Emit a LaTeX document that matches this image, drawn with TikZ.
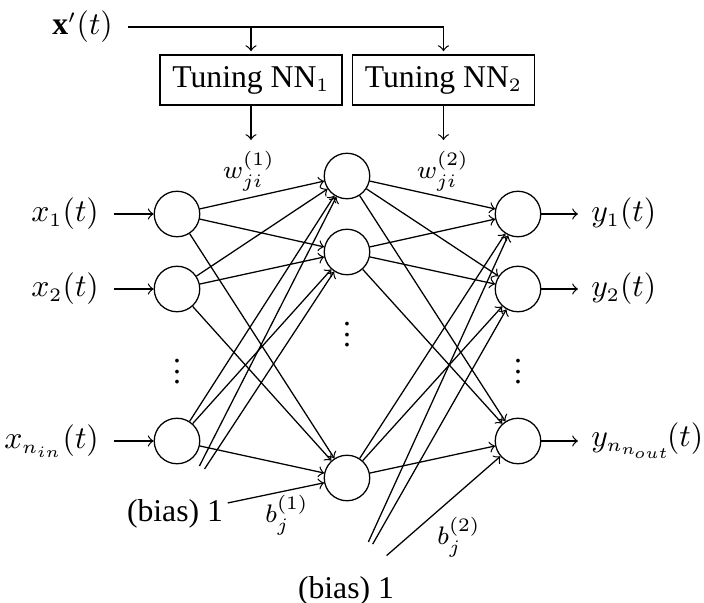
\documentclass[tikz,border=0pt]{standalone}
\usepackage{fontspec}
\setmainfont{Liberation Serif}
\DeclareMathSizes{10}{10}{6}{5}
\newcommand\vdotz{\vbox{\baselineskip=3.3pt \lineskiplimit=0pt \hbox{.}\hbox{.}\hbox{.}}}
\tikzset{
  neuron/.style={circle, draw, minimum size=14.36pt, inner sep=0pt},
  tbox/.style={draw, rectangle, minimum width=57.4pt, minimum height=15.8pt, inner sep=0pt},
  lbl/.style={inner sep=0pt, inner xsep=4.6pt},
  olbl/.style={inner sep=0pt, inner xsep=4pt},
  conn/.style={->},
  biasline/.style={->, shorten <=17pt},
  wlbl/.style={font=\footnotesize, inner sep=0pt},
}
\begin{document}
\begin{tikzpicture}[x=0.3155pt, y=-0.3155pt]
\useasboundingbox (0,0) rectangle (704,603);
% neurons
\node[neuron] (i1) at (177,214) {};
\node[neuron] (i2) at (177,289) {};
\node[neuron] (i3) at (177,441) {};
\node[neuron] (h1) at (347,176) {};
\node[neuron] (h2) at (347,252) {};
\node[neuron] (h3) at (347,478) {};
\node[neuron] (o1) at (518,214) {};
\node[neuron] (o2) at (518,289) {};
\node[neuron] (o3) at (518,441) {};
% dots
\node (d1) at (177,372) {\vdotz};
\node (d2) at (347,335) {\vdotz};
\node (d3) at (518,372) {\vdotz};
% input / output labels
\node[lbl, anchor=east] (lx1) at (114,214) {$x_1(t)$};
\node[lbl, anchor=east] (lx2) at (114,289) {$x_2(t)$};
\node[lbl, anchor=east] (lx3) at (114,441) {$x_{n_{in}}(t)$};
\node[olbl, anchor=west] (ly1) at (578,214) {$y_1(t)$};
\node[olbl, anchor=west] (ly2) at (578,289) {$y_2(t)$};
\node[olbl, anchor=west] (ly3) at (578,441) {$y_{n_{n_{\mkern-1mu out}}}\mkern-3mu(t)$};
\foreach \k in {1,2,3}{
  \draw[conn] (lx\k) -- (i\k);
  \draw[conn] (o\k) -- (ly\k);
}
% tuning networks
\node[lbl, anchor=east] (xp) at (128,27) {$\mathbf{x}'(t)$};
\node[tbox] (t1) at (251,80) {Tuning NN$_1$};
\node[tbox] (t2) at (443.5,80) {Tuning NN$_2$};
\draw[conn, shorten >=1pt] (xp) -| (t2);
\draw[conn, shorten >=1pt] (xp -| t1) -- (t1);
\coordinate (w1) at (251,140);
\coordinate (w2) at (443.5,140);
\draw[conn] (t1) -- (w1);
\draw[conn] (t2) -- (w2);
\node[wlbl] (lw1) at (249,171) {$w_{ji}^{(1)}$};
\node[wlbl] (lw2) at (443,171) {$w_{ji}^{(2)}$};
% layer connections
\foreach \a in {1,2,3}{
  \foreach \b in {1,2,3}{
    \draw[conn] (i\a) -- (h\b);
    \draw[conn] (h\a) -- (o\b);
  }
}
% bias
\node[inner sep=1.5pt] (b1) at (175,514) {(bias) 1};
\node[inner sep=1.5pt] (b2) at (346,591) {(bias) 1};
\foreach \b in {1,2,3}{
  \draw[biasline] (b1.center) -- (h\b);
  \draw[biasline] (b2.center) -- (o\b);
}
\node[wlbl] (lb1) at (287,515) {$b_j^{(1)}$};
\node[wlbl] (lb2) at (459,537) {$b_j^{(2)}$};
\end{tikzpicture}
\end{document}
